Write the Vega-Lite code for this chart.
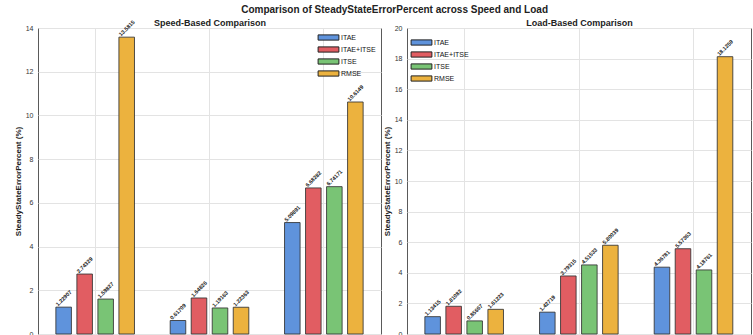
{
  "$schema": "https://vega.github.io/schema/vega-lite/v6.json",
  "padding": {"left": 13, "top": 4, "right": 4, "bottom": 0},
  "background": "white",
  "title": {
    "text": "Comparison of SteadyStateErrorPercent across Speed and Load",
    "font": "Liberation Sans",
    "fontSize": 10,
    "fontWeight": "bold",
    "color": "#222222",
    "anchor": "middle",
    "dx": 12,
    "offset": 3
  },
  "config": {
    "font": "Liberation Sans",
    "view": {"stroke": "#5a5a5a", "strokeWidth": 1},
    "axis": {
      "labelFont": "Liberation Sans",
      "titleFont": "Liberation Sans",
      "gridColor": "#e3e3e3",
      "gridWidth": 1
    },
    "legend": {
      "labelFont": "Liberation Sans",
      "labelFontSize": 7,
      "labelColor": "#111111",
      "symbolType": "M-2.6,-0.65H2.6V0.65H-2.6Z",
      "symbolSize": 64,
      "symbolStrokeColor": "#222222",
      "symbolStrokeWidth": 1,
      "symbolOpacity": 1,
      "labelOffset": 8,
      "rowPadding": 1,
      "padding": 0,
      "title": null
    }
  },
  "datasets": {
    "speed": [
      {"group": "Low", "method": "ITAE", "value": 1.22907},
      {"group": "Low", "method": "ITAE+ITSE", "value": 2.74329},
      {"group": "Low", "method": "ITSE", "value": 1.59827},
      {"group": "Low", "method": "RMSE", "value": 13.5815},
      {"group": "Medium", "method": "ITAE", "value": 0.61709},
      {"group": "Medium", "method": "ITAE+ITSE", "value": 1.64826},
      {"group": "Medium", "method": "ITSE", "value": 1.19163},
      {"group": "Medium", "method": "RMSE", "value": 1.22363},
      {"group": "High", "method": "ITAE", "value": 5.09891},
      {"group": "High", "method": "ITAE+ITSE", "value": 6.68282},
      {"group": "High", "method": "ITSE", "value": 6.74171},
      {"group": "High", "method": "RMSE", "value": 10.6149}
    ],
    "load": [
      {"group": "Low", "method": "ITAE", "value": 1.13415},
      {"group": "Low", "method": "ITAE+ITSE", "value": 1.81082},
      {"group": "Low", "method": "ITSE", "value": 0.85667},
      {"group": "Low", "method": "RMSE", "value": 1.61223},
      {"group": "Medium", "method": "ITAE", "value": 1.42719},
      {"group": "Medium", "method": "ITAE+ITSE", "value": 3.79315},
      {"group": "Medium", "method": "ITSE", "value": 4.51533},
      {"group": "Medium", "method": "RMSE", "value": 5.80039},
      {"group": "High", "method": "ITAE", "value": 4.36781},
      {"group": "High", "method": "ITAE+ITSE", "value": 5.57363},
      {"group": "High", "method": "ITSE", "value": 4.18761},
      {"group": "High", "method": "RMSE", "value": 18.1259}
    ]
  },
  "spacing": 0,
  "resolve": {"scale": {"y": "independent"}, "legend": {"color": "independent"}},
  "hconcat": [
    {
      "width": 343,
      "height": 306,
      "data": {"name": "speed"},
      "encoding": {
        "x": {
          "field": "group", "type": "nominal", "sort": ["Low", "Medium", "High"],
          "scale": {"paddingInner": 0, "paddingOuter": 0},
          "axis": {
            "orient": "top", "labels": false, "ticks": false, "domain": false, "grid": true, "bandPosition": 0.5,
            "title": "Speed-Based Comparison", "titleFontSize": 9, "titleFontWeight": "bold", "titleColor": "#222222", "titlePadding": 1
          }
        },
        "xOffset": {
          "field": "method", "type": "nominal", "sort": ["ITAE", "ITAE+ITSE", "ITSE", "RMSE"],
          "scale": {"paddingInner": 0.26, "paddingOuter": 0.85}
        },
        "y": {
          "field": "value", "type": "quantitative",
          "scale": {"domain": [0, 14], "nice": false},
          "axis": {
            "values": [0, 2, 4, 6, 8, 10, 12, 14], "grid": true, "domain": false, "ticks": false,
            "labelFontSize": 7, "labelColor": "#333333", "labelPadding": 5,
            "title": "SteadyStateErrorPercent (%)", "titleFontSize": 8, "titleFontWeight": "bold",
            "titleColor": "#222222", "titlePadding": 3
          }
        }
      },
      "layer": [
        {
          "mark": {"type": "bar", "stroke": "#333333", "strokeWidth": 1, "strokeOpacity": 0.85},
          "encoding": {
            "color": {
              "field": "method", "type": "nominal",
              "scale": {"domain": ["ITAE", "ITAE+ITSE", "ITSE", "RMSE"], "range": ["#5f93dc", "#e15d62", "#79c475", "#ecb23e"]},
              "legend": {"orient": "top-right", "offset": 5}
            }
          }
        },
        {
          "mark": {"type": "text", "angle": -45, "align": "center", "baseline": "middle", "yOffset": -9, "fontSize": 5.5, "fontWeight": "bold", "color": "#1a1a1a"},
          "encoding": {"text": {"field": "value", "type": "quantitative", "format": ".6"}}
        }
      ]
    },
    {
      "width": 344,
      "height": 306,
      "data": {"name": "load"},
      "encoding": {
        "x": {
          "field": "group", "type": "nominal", "sort": ["Low", "Medium", "High"],
          "scale": {"paddingInner": 0, "paddingOuter": 0},
          "axis": {
            "orient": "top", "labels": false, "ticks": false, "domain": false, "grid": true, "bandPosition": 0.5,
            "title": "Load-Based Comparison", "titleFontSize": 9, "titleFontWeight": "bold", "titleColor": "#222222", "titlePadding": 1
          }
        },
        "xOffset": {
          "field": "method", "type": "nominal", "sort": ["ITAE", "ITAE+ITSE", "ITSE", "RMSE"],
          "scale": {"paddingInner": 0.26, "paddingOuter": 0.85}
        },
        "y": {
          "field": "value", "type": "quantitative",
          "scale": {"domain": [0, 20], "nice": false},
          "axis": {
            "values": [0, 2, 4, 6, 8, 10, 12, 14, 16, 18, 20], "grid": true, "domain": false, "ticks": false,
            "labelFontSize": 7, "labelColor": "#333333", "labelPadding": 5,
            "title": "SteadyStateErrorPercent (%)", "titleFontSize": 8, "titleFontWeight": "bold",
            "titleColor": "#222222", "titlePadding": 3
          }
        }
      },
      "layer": [
        {
          "mark": {"type": "bar", "stroke": "#333333", "strokeWidth": 1, "strokeOpacity": 0.85},
          "encoding": {
            "color": {
              "field": "method", "type": "nominal",
              "scale": {"domain": ["ITAE", "ITAE+ITSE", "ITSE", "RMSE"], "range": ["#5f93dc", "#e15d62", "#79c475", "#ecb23e"]},
              "legend": {"orient": "top-left", "offset": 10}
            }
          }
        },
        {
          "mark": {"type": "text", "angle": -45, "align": "center", "baseline": "middle", "yOffset": -9, "fontSize": 5.5, "fontWeight": "bold", "color": "#1a1a1a"},
          "encoding": {"text": {"field": "value", "type": "quantitative", "format": ".6"}}
        }
      ]
    }
  ]
}
